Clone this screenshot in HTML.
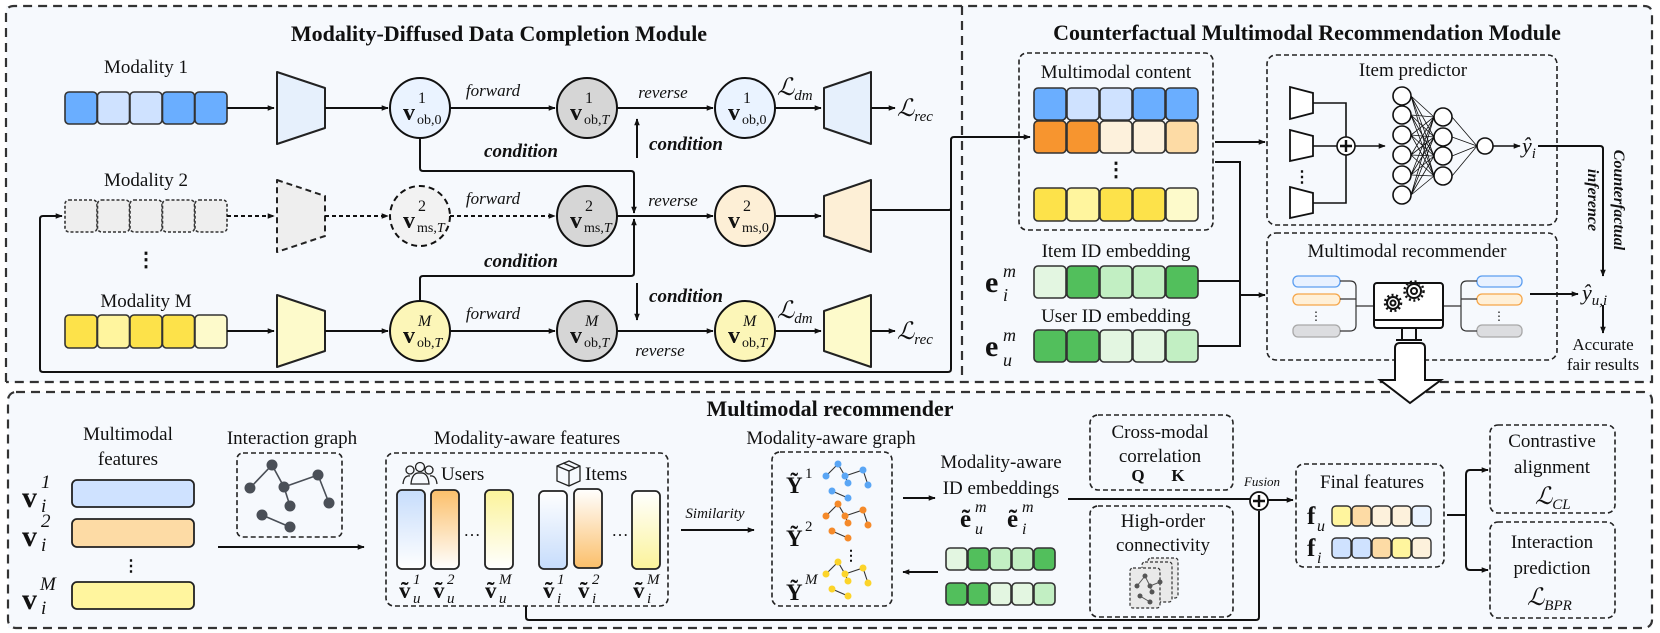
<!DOCTYPE html>
<html><head><meta charset="utf-8"><style>
html,body{margin:0;padding:0;background:#fff}
svg{display:block}
text{font-family:"Liberation Serif",serif;fill:#111}
.b{font-weight:bold}
.i{font-style:italic}
</style></head><body>
<svg width="1660" height="633" viewBox="0 0 1660 633" xmlns="http://www.w3.org/2000/svg">
<defs>
<marker id="a" viewBox="0 0 10 10" refX="9" refY="5" markerWidth="7" markerHeight="7" orient="auto-start-reverse" markerUnits="userSpaceOnUse"><path d="M0,1 L10,5 L0,9 z" fill="#111"/></marker>
<linearGradient id="gb" x1="0" y1="0" x2="0" y2="1"><stop offset="0" stop-color="#c6dcfb"/><stop offset="1" stop-color="#fff"/></linearGradient>
<linearGradient id="go" x1="0" y1="0" x2="0" y2="1"><stop offset="0" stop-color="#fbbf6a"/><stop offset="1" stop-color="#fff"/></linearGradient>
<linearGradient id="gy" x1="0" y1="0" x2="0" y2="1"><stop offset="0" stop-color="#fbf39a"/><stop offset="1" stop-color="#fff"/></linearGradient>
<linearGradient id="gb2" x1="0" y1="1" x2="0" y2="0"><stop offset="0" stop-color="#c6dcfb"/><stop offset="1" stop-color="#fff"/></linearGradient>
<linearGradient id="go2" x1="0" y1="1" x2="0" y2="0"><stop offset="0" stop-color="#fbbf6a"/><stop offset="1" stop-color="#fff"/></linearGradient>
<linearGradient id="gy2" x1="0" y1="1" x2="0" y2="0"><stop offset="0" stop-color="#fbf39a"/><stop offset="1" stop-color="#fff"/></linearGradient>
</defs>

<rect x="6" y="6" width="1646" height="376" fill="#f6f9fd"/>
<rect x="8" y="392" width="1644" height="236" fill="#f6f9fd"/>
<path d="M6,382 V14 Q6,6 14,6 H1644 Q1652,6 1652,14 V382 H6" fill="none" stroke="#333" stroke-width="2.2" stroke-dasharray="9,6"/>
<line x1="962" y1="6" x2="962" y2="382" stroke="#333" stroke-width="2.2" stroke-dasharray="9,6"/>
<rect x="8" y="392" width="1644" height="236" rx="8" fill="none" stroke="#333" stroke-width="2.2" stroke-dasharray="9,6"/>

<!-- ============ TOP LEFT ============ -->
<text x="499" y="41" text-anchor="middle" class="b" font-size="22">Modality-Diffused Data Completion Module</text>
<text x="146" y="73" text-anchor="middle" font-size="19">Modality 1</text>
<text x="146" y="186" text-anchor="middle" font-size="19">Modality 2</text>
<text x="146" y="307" text-anchor="middle" font-size="19">Modality M</text>
<text x="146" y="266" text-anchor="middle" font-size="20" class="b">⋮</text>

<g stroke="#333" stroke-width="1.6">
<rect x="65" y="92" width="32" height="32" rx="4" fill="#6aaeff"/><rect x="97.5" y="92" width="32" height="32" rx="4" fill="#cfe2ff"/><rect x="130" y="92" width="32" height="32" rx="4" fill="#cfe2ff"/><rect x="162.5" y="92" width="32" height="32" rx="4" fill="#6aaeff"/><rect x="195" y="92" width="32" height="32" rx="4" fill="#6aaeff"/>
<g fill="#eeeeee" stroke-dasharray="3,2"><rect x="65" y="200" width="32" height="32" rx="4"/><rect x="97.5" y="200" width="32" height="32" rx="4"/><rect x="130" y="200" width="32" height="32" rx="4"/><rect x="162.5" y="200" width="32" height="32" rx="4"/><rect x="195" y="200" width="32" height="32" rx="4"/></g>
<rect x="65" y="315" width="32" height="33" rx="4" fill="#fde24a"/><rect x="97.5" y="315" width="32" height="33" rx="4" fill="#fff59e"/><rect x="130" y="315" width="32" height="33" rx="4" fill="#fde24a"/><rect x="162.5" y="315" width="32" height="33" rx="4" fill="#fde24a"/><rect x="195" y="315" width="32" height="33" rx="4" fill="#fdfacb"/>
</g>

<g stroke="#222" stroke-width="2" stroke-linejoin="round">
<path d="M277,72 L325,88 L325,128 L277,144 Z" fill="#e6f0fc"/>
<path d="M277,180 L325,196 L325,236 L277,252 Z" fill="#eeeeee" stroke-dasharray="6,4"/>
<path d="M277,295 L325,311 L325,351 L277,367 Z" fill="#fdfacb"/>
<path d="M824,88 L871,72 L871,144 L824,128 Z" fill="#e6f0fc"/>
<path d="M824,196 L871,180 L871,252 L824,236 Z" fill="#fdefd6"/>
<path d="M824,311 L871,295 L871,367 L824,351 Z" fill="#fdfacb"/>
</g>

<g stroke="#111" stroke-width="2" fill="none">
<line x1="227" y1="108" x2="274" y2="108" marker-end="url(#a)"/>
<line x1="325" y1="108" x2="388" y2="108" marker-end="url(#a)"/>
<line x1="450" y1="108" x2="555" y2="108" marker-end="url(#a)"/>
<line x1="617" y1="108" x2="713" y2="108" marker-end="url(#a)"/>
<line x1="775" y1="108" x2="821" y2="108" marker-end="url(#a)"/>
<line x1="871" y1="108" x2="895" y2="108" marker-end="url(#a)"/>
<g stroke-dasharray="4,3"><line x1="227" y1="216" x2="274" y2="216" marker-end="url(#a)"/>
<line x1="325" y1="216" x2="388" y2="216" marker-end="url(#a)"/>
<line x1="450" y1="216" x2="555" y2="216" marker-end="url(#a)"/></g>
<line x1="617" y1="216" x2="713" y2="216" marker-end="url(#a)"/>
<line x1="775" y1="216" x2="821" y2="216" marker-end="url(#a)"/>
<line x1="227" y1="331" x2="274" y2="331" marker-end="url(#a)"/>
<line x1="325" y1="331" x2="388" y2="331" marker-end="url(#a)"/>
<line x1="450" y1="331" x2="555" y2="331" marker-end="url(#a)"/>
<line x1="617" y1="331" x2="713" y2="331" marker-end="url(#a)"/>
<line x1="775" y1="331" x2="821" y2="331" marker-end="url(#a)"/>
<line x1="871" y1="331" x2="895" y2="331" marker-end="url(#a)"/>
<path d="M420,138 V168 Q420,171 423,171 H631 Q634,171 634,174 V213" marker-end="url(#a)"/>
<path d="M420,301 V279 Q420,276 423,276 H631 Q634,276 634,273 V219" marker-end="url(#a)"/>
<line x1="637" y1="158" x2="637" y2="119" marker-end="url(#a)"/>
<line x1="637" y1="283" x2="637" y2="320" marker-end="url(#a)"/>
<path d="M871,210 H949 Q951,210 951,208 V140 Q951,137 954,137 H1030" marker-end="url(#a)"/>
<path d="M951,208 V369 Q951,372 948,372 H43 Q40,372 40,369 V219 Q40,216 43,216 H62" marker-end="url(#a)"/>
</g>

<g stroke="#111" stroke-width="2">
<circle cx="420" cy="108" r="30" fill="#eaf3ff"/>
<circle cx="587" cy="108" r="30" fill="#d6d6d6"/>
<circle cx="745" cy="108" r="30" fill="#eaf3ff"/>
<circle cx="420" cy="216" r="30" fill="#f2f2f2" stroke-dasharray="6,4"/>
<circle cx="587" cy="216" r="30" fill="#d6d6d6"/>
<circle cx="745" cy="216" r="30" fill="#fdefd6"/>
<circle cx="420" cy="331" r="30" fill="#fcf6b8"/>
<circle cx="587" cy="331" r="30" fill="#d6d6d6"/>
<circle cx="745" cy="331" r="30" fill="#fcf6b8"/>
</g>
<g font-size="24">
<text x="403" y="120" class="b">v</text><text x="418" y="103" font-size="16">1</text><text x="417" y="124" font-size="14">ob,0</text>
<text x="570" y="120" class="b">v</text><text x="585" y="103" font-size="16">1</text><text x="584" y="124" font-size="14">ob,<tspan class="i">T</tspan></text>
<text x="728" y="120" class="b">v</text><text x="743" y="103" font-size="16">1</text><text x="742" y="124" font-size="14">ob,0</text>
<text x="403" y="228" class="b">v</text><text x="418" y="211" font-size="16">2</text><text x="417" y="232" font-size="14">ms,<tspan class="i">T</tspan></text>
<text x="570" y="228" class="b">v</text><text x="585" y="211" font-size="16">2</text><text x="584" y="232" font-size="14">ms,<tspan class="i">T</tspan></text>
<text x="728" y="228" class="b">v</text><text x="743" y="211" font-size="16">2</text><text x="742" y="232" font-size="14">ms,0</text>
<text x="403" y="343" class="b">v</text><text x="418" y="326" font-size="16" class="i">M</text><text x="417" y="347" font-size="14">ob,<tspan class="i">T</tspan></text>
<text x="570" y="343" class="b">v</text><text x="585" y="326" font-size="16" class="i">M</text><text x="584" y="347" font-size="14">ob,<tspan class="i">T</tspan></text>
<text x="728" y="343" class="b">v</text><text x="743" y="326" font-size="16" class="i">M</text><text x="742" y="347" font-size="14">ob,<tspan class="i">T</tspan></text>
</g>
<g font-size="17" class="i">
<text x="493" y="96" text-anchor="middle">forward</text>
<text x="663" y="98" text-anchor="middle">reverse</text>
<text x="493" y="204" text-anchor="middle">forward</text>
<text x="673" y="206" text-anchor="middle">reverse</text>
<text x="493" y="319" text-anchor="middle">forward</text>
<text x="660" y="356" text-anchor="middle">reverse</text>
</g>
<g font-size="19" class="b i">
<text x="521" y="157" text-anchor="middle">condition</text>
<text x="686" y="150" text-anchor="middle">condition</text>
<text x="521" y="267" text-anchor="middle">condition</text>
<text x="686" y="302" text-anchor="middle">condition</text>
</g>
<g font-size="24" class="i">
<text x="777" y="95">ℒ<tspan font-size="15" dy="5">dm</tspan></text>
<text x="777" y="318">ℒ<tspan font-size="15" dy="5">dm</tspan></text>
<text x="897" y="116">ℒ<tspan font-size="15" dy="5">rec</tspan></text>
<text x="897" y="339">ℒ<tspan font-size="15" dy="5">rec</tspan></text>
</g>

<!-- ============ TOP RIGHT ============ -->
<text x="1307" y="40" text-anchor="middle" class="b" font-size="22">Counterfactual Multimodal Recommendation Module</text>
<rect x="1019" y="53" width="194" height="177" rx="8" fill="none" stroke="#222" stroke-width="1.6" stroke-dasharray="5,3"/>
<text x="1116" y="78" text-anchor="middle" font-size="19">Multimodal content</text>
<g stroke="#333" stroke-width="1.6">
<rect x="1034" y="88" width="32" height="32" rx="4" fill="#6aaeff"/><rect x="1067" y="88" width="32" height="32" rx="4" fill="#cfe2ff"/><rect x="1100" y="88" width="32" height="32" rx="4" fill="#cfe2ff"/><rect x="1133" y="88" width="32" height="32" rx="4" fill="#6aaeff"/><rect x="1166" y="88" width="32" height="32" rx="4" fill="#6aaeff"/>
<rect x="1034" y="121" width="32" height="32" rx="4" fill="#f7952f"/><rect x="1067" y="121" width="32" height="32" rx="4" fill="#f7952f"/><rect x="1100" y="121" width="32" height="32" rx="4" fill="#fdf1dc"/><rect x="1133" y="121" width="32" height="32" rx="4" fill="#fdf1dc"/><rect x="1166" y="121" width="32" height="32" rx="4" fill="#fddba5"/>
<rect x="1034" y="188" width="32" height="33" rx="4" fill="#fde24a"/><rect x="1067" y="188" width="32" height="33" rx="4" fill="#fff59e"/><rect x="1100" y="188" width="32" height="33" rx="4" fill="#fde24a"/><rect x="1133" y="188" width="32" height="33" rx="4" fill="#fde24a"/><rect x="1166" y="188" width="32" height="33" rx="4" fill="#fdfacb"/>
<rect x="1034" y="266" width="32" height="32" rx="4" fill="#e3f6e1"/><rect x="1067" y="266" width="32" height="32" rx="4" fill="#52bf5c"/><rect x="1100" y="266" width="32" height="32" rx="4" fill="#c2efc3"/><rect x="1133" y="266" width="32" height="32" rx="4" fill="#c2efc3"/><rect x="1166" y="266" width="32" height="32" rx="4" fill="#52bf5c"/>
<rect x="1034" y="330" width="32" height="32" rx="4" fill="#52bf5c"/><rect x="1067" y="330" width="32" height="32" rx="4" fill="#52bf5c"/><rect x="1100" y="330" width="32" height="32" rx="4" fill="#e3f6e1"/><rect x="1133" y="330" width="32" height="32" rx="4" fill="#e3f6e1"/><rect x="1166" y="330" width="32" height="32" rx="4" fill="#c2efc3"/>
</g>
<text x="1116" y="176" text-anchor="middle" font-size="20" class="b">⋮</text>
<text x="1116" y="257" text-anchor="middle" font-size="19">Item ID embedding</text>
<text x="1116" y="322" text-anchor="middle" font-size="19">User ID embedding</text>
<text x="985" y="292" font-size="30" class="b">e</text><text x="1003" y="277" font-size="18" class="i">m</text><text x="1003" y="301" font-size="18" class="i">i</text>
<text x="985" y="356" font-size="30" class="b">e</text><text x="1003" y="341" font-size="18" class="i">m</text><text x="1003" y="366" font-size="18" class="i">u</text>

<g stroke="#111" stroke-width="2" fill="none">
<line x1="1215" y1="142" x2="1265" y2="142" marker-end="url(#a)"/>
<path d="M1215,162 H1240 V346 H1198 M1198,281 H1240"/>
<line x1="1240" y1="295" x2="1265" y2="295" marker-end="url(#a)"/>
</g>

<rect x="1267" y="55" width="290" height="170" rx="9" fill="none" stroke="#222" stroke-width="1.6" stroke-dasharray="5,3"/>
<text x="1413" y="76" text-anchor="middle" font-size="19">Item predictor</text>
<g stroke="#111" stroke-width="1.8" fill="#fff">
<path d="M1290,87 L1313,93 L1313,113 L1290,119 Z"/>
<path d="M1290,130 L1313,136 L1313,156 L1290,161 Z"/>
<path d="M1290,187 L1313,193 L1313,213 L1290,218 Z"/>
</g>
<g stroke="#111" stroke-width="1.6" fill="none">
<path d="M1313,103 H1346 V203 H1313 M1313,146 H1337"/>
<line x1="1355" y1="146" x2="1385" y2="146" marker-end="url(#a)"/>
<line x1="1493" y1="146" x2="1520" y2="146" marker-end="url(#a)"/>
</g>
<circle cx="1346" cy="146" r="9" fill="#fff" stroke="#111" stroke-width="1.6"/>
<path d="M1340,146 H1352 M1346,140 V152" stroke="#111" stroke-width="2.4"/>
<text x="1302" y="182" text-anchor="middle" font-size="16" class="b">⋮</text>
<g stroke="#111" stroke-width="0.8" fill="none">
<path d="M1411,96 L1434,117 M1411,96 L1434,137 M1411,96 L1434,156 M1411,96 L1434,176
M1411,115 L1434,117 M1411,115 L1434,137 M1411,115 L1434,156 M1411,115 L1434,176
M1411,135 L1434,117 M1411,135 L1434,137 M1411,135 L1434,156 M1411,135 L1434,176
M1411,155 L1434,117 M1411,155 L1434,137 M1411,155 L1434,156 M1411,155 L1434,176
M1411,175 L1434,117 M1411,175 L1434,137 M1411,175 L1434,156 M1411,175 L1434,176
M1411,195 L1434,117 M1411,195 L1434,137 M1411,195 L1434,156 M1411,195 L1434,176
M1452,117 L1477,146 M1452,137 L1477,146 M1452,156 L1477,146 M1452,176 L1477,146"/>
</g>
<g stroke="#111" stroke-width="1.6" fill="#fff">
<circle cx="1402" cy="96" r="9"/><circle cx="1402" cy="115" r="9"/><circle cx="1402" cy="135" r="9"/><circle cx="1402" cy="155" r="9"/><circle cx="1402" cy="175" r="9"/><circle cx="1402" cy="195" r="9"/>
<circle cx="1443" cy="117" r="9"/><circle cx="1443" cy="137" r="9"/><circle cx="1443" cy="156" r="9"/><circle cx="1443" cy="176" r="9"/>
<circle cx="1485" cy="146" r="8"/>
</g>
<text x="1522" y="153" font-size="22" class="i">ŷ<tspan font-size="15" dy="5">i</tspan></text>

<rect x="1267" y="233" width="290" height="127" rx="9" fill="none" stroke="#222" stroke-width="1.6" stroke-dasharray="5,3"/>
<text x="1407" y="257" text-anchor="middle" font-size="19">Multimodal recommender</text>
<g stroke-width="1.3">
<rect x="1293" y="276" width="47" height="11" rx="5" fill="#e8f1ff" stroke="#5c9ef0"/>
<rect x="1293" y="294" width="47" height="11" rx="5" fill="#fff0d8" stroke="#f5a64a"/>
<rect x="1293" y="325" width="47" height="12" rx="5" fill="#dcdde0" stroke="#a8a8a8"/>
<rect x="1477" y="276" width="45" height="11" rx="5" fill="#e8f1ff" stroke="#5c9ef0"/>
<rect x="1477" y="294" width="45" height="11" rx="5" fill="#fff0d8" stroke="#f5a64a"/>
<rect x="1477" y="325" width="45" height="12" rx="5" fill="#dcdde0" stroke="#a8a8a8"/>
</g>
<text x="1316" y="320" text-anchor="middle" font-size="12">⋮</text>
<text x="1499" y="320" text-anchor="middle" font-size="12">⋮</text>
<g stroke="#333" stroke-width="1.2" fill="none">
<path d="M1340,281 H1350 Q1356,281 1356,287 V325 Q1356,331 1350,331 H1340 M1340,299 H1356 M1356,306 H1373"/>
<path d="M1477,281 H1467 Q1461,281 1461,287 V325 Q1461,331 1467,331 H1477 M1477,299 H1461 M1461,306 H1444"/>
</g>
<g stroke="#111" stroke-width="2" fill="none">
<rect x="1374" y="283" width="69" height="45" rx="3" fill="#fff"/>
<line x1="1374" y1="320" x2="1443" y2="320"/>
<path d="M1402,328 V339 M1416,328 V339 M1396,340 H1422"/>
<circle cx="1414" cy="291" r="7"/><circle cx="1414" cy="291" r="3"/>
<circle cx="1393" cy="303" r="6"/><circle cx="1393" cy="303" r="2.5"/>
</g>
<g stroke="#111" stroke-width="2.5" stroke-dasharray="2,2.5" fill="none">
<circle cx="1414" cy="291" r="9.5"/><circle cx="1393" cy="303" r="8"/>
</g>
<line x1="1530" y1="294" x2="1578" y2="294" stroke="#111" stroke-width="2" marker-end="url(#a)"/>
<text x="1582" y="300" font-size="22" class="i">ŷ<tspan font-size="15" dy="5">u,i</tspan></text>
<path d="M1538,146 H1600 Q1603,146 1603,149 V276" stroke="#111" stroke-width="2" fill="none" marker-end="url(#a)"/>
<text transform="translate(1614,200) rotate(90)" text-anchor="middle" font-size="16" class="b i">Counterfactual</text>
<text transform="translate(1588,200) rotate(90)" text-anchor="middle" font-size="16" class="b i">inference</text>
<line x1="1603" y1="305" x2="1603" y2="333" stroke="#111" stroke-width="2" marker-end="url(#a)"/>
<text x="1603" y="350" text-anchor="middle" font-size="17">Accurate</text>
<text x="1603" y="370" text-anchor="middle" font-size="17">fair results</text>

<path d="M1395,348 Q1395,343 1400,343 H1420 Q1425,343 1425,348 V380 H1441 L1410,403 L1380,380 H1395 Z" fill="#fff" stroke="#111" stroke-width="2"/>

<!-- ============ BOTTOM ============ -->
<text x="830" y="416" text-anchor="middle" class="b" font-size="22">Multimodal recommender</text>
<text x="128" y="440" text-anchor="middle" font-size="19">Multimodal</text>
<text x="128" y="465" text-anchor="middle" font-size="19">features</text>
<g stroke="#222" stroke-width="1.8">
<rect x="72" y="480" width="122" height="27" rx="5" fill="#cfe2ff"/>
<rect x="72" y="519" width="122" height="28" rx="5" fill="#fddba5"/>
<rect x="72" y="582" width="122" height="27" rx="5" fill="#fff59e"/>
</g>
<text x="131" y="571" text-anchor="middle" font-size="16" class="b">⋮</text>
<g font-size="30" class="b"><text x="22" y="507">v</text><text x="22" y="546">v</text><text x="22" y="609">v</text></g>
<g font-size="19" class="i"><text x="41" y="488">1</text><text x="41" y="512">i</text><text x="41" y="527">2</text><text x="41" y="551">i</text><text x="40" y="590">M</text><text x="41" y="614">i</text></g>

<text x="292" y="444" text-anchor="middle" font-size="19">Interaction graph</text>
<rect x="237" y="453" width="105" height="84" rx="6" fill="none" stroke="#222" stroke-width="1.6" stroke-dasharray="5,3"/>
<g stroke="#4a4f57" stroke-width="1.6" fill="none"><path d="M250,488 L272,465 L284,487 L318,475 L329,503 M284,487 L290,506 M262,515 L290,527"/></g>
<g fill="#4a4f57"><circle cx="272" cy="465" r="5.5"/><circle cx="250" cy="488" r="5.5"/><circle cx="284" cy="487" r="5.5"/><circle cx="318" cy="475" r="5.5"/><circle cx="329" cy="503" r="5.5"/><circle cx="290" cy="506" r="5.5"/><circle cx="262" cy="515" r="5.5"/><circle cx="290" cy="527" r="5.5"/></g>
<line x1="218" y1="547" x2="364" y2="547" stroke="#111" stroke-width="2" marker-end="url(#a)"/>

<text x="527" y="444" text-anchor="middle" font-size="19">Modality-aware features</text>
<rect x="386" y="453" width="282" height="153" rx="8" fill="none" stroke="#222" stroke-width="1.6" stroke-dasharray="5,3"/>
<g stroke="#222" stroke-width="1.3" fill="none">
<circle cx="410" cy="470" r="4"/><circle cx="420" cy="467" r="4.5"/><circle cx="429" cy="470" r="4"/>
<path d="M403,484 Q404,475 410,476 M411,484 Q412,472 420,473 Q428,472 429,484 Z M437,484 Q436,475 430,476"/>
<path d="M557,466 L569,461 L580,466 L580,481 L569,486 L557,481 Z M557,466 L569,471 L580,466 M569,471 V486 M563,463 L575,468"/>
</g>
<text x="441" y="480" font-size="19">Users</text>
<text x="585" y="480" font-size="19">Items</text>
<g stroke="#222" stroke-width="1.8">
<rect x="397" y="490" width="28" height="79" rx="5" fill="url(#gb)"/>
<rect x="431" y="490" width="28" height="79" rx="5" fill="url(#go)"/>
<rect x="485" y="490" width="28" height="79" rx="5" fill="url(#gy)"/>
<rect x="539" y="491" width="28" height="78" rx="5" fill="url(#gb2)"/>
<rect x="574" y="489" width="28" height="79" rx="5" fill="url(#go2)"/>
<rect x="632" y="491" width="28" height="78" rx="5" fill="url(#gy2)"/>
</g>
<text x="472" y="536" text-anchor="middle" font-size="17">…</text>
<text x="620" y="536" text-anchor="middle" font-size="17">…</text>
<g font-size="23" class="b"><text x="399" y="598">ṽ</text><text x="433" y="598">ṽ</text><text x="485" y="598">ṽ</text><text x="543" y="598">ṽ</text><text x="578" y="598">ṽ</text><text x="633" y="598">ṽ</text></g>
<g font-size="15" class="i"><text x="413" y="584">1</text><text x="413" y="603">u</text><text x="447" y="584">2</text><text x="447" y="603">u</text><text x="499" y="584">M</text><text x="499" y="603">u</text><text x="557" y="584">1</text><text x="557" y="603">i</text><text x="592" y="584">2</text><text x="592" y="603">i</text><text x="647" y="584">M</text><text x="647" y="603">i</text></g>

<text x="715" y="518" text-anchor="middle" font-size="15" class="i">Similarity</text>
<line x1="681" y1="530" x2="754" y2="530" stroke="#111" stroke-width="2" marker-end="url(#a)"/>

<text x="831" y="444" text-anchor="middle" font-size="19">Modality-aware graph</text>
<rect x="772" y="452" width="120" height="154" rx="8" fill="none" stroke="#222" stroke-width="1.6" stroke-dasharray="5,3"/>
<g font-size="23" class="b"><text x="786" y="493">Ỹ</text><text x="786" y="546">Ỹ</text><text x="786" y="600">Ỹ</text></g>
<g font-size="15"><text x="805" y="478">1</text><text x="805" y="531">2</text><text x="805" y="584" class="i">M</text></g>
<g fill="none" stroke="#333" stroke-width="1.1">
<path d="M826,476 L838,464 L845,476 L863,470 L868,485 M845,476 L848,483 M832,491 L848,498"/>
<path transform="translate(0,40)" d="M826,476 L838,464 L845,476 L863,470 L868,485 M845,476 L848,483 M832,491 L848,498"/>
<path transform="translate(0,98)" d="M826,476 L838,464 L845,476 L863,470 L868,485 M845,476 L848,483 M832,491 L848,498"/>
</g>
<g fill="#5aa6f5"><circle cx="838" cy="464" r="3.5"/><circle cx="826" cy="476" r="3.5"/><circle cx="845" cy="476" r="3.5"/><circle cx="863" cy="470" r="3.5"/><circle cx="868" cy="485" r="3.5"/><circle cx="848" cy="483" r="3.5"/><circle cx="832" cy="491" r="3.5"/><circle cx="848" cy="498" r="3.5"/></g>
<g transform="translate(0,40)" fill="#f58a2a"><circle cx="838" cy="464" r="3.5"/><circle cx="826" cy="476" r="3.5"/><circle cx="845" cy="476" r="3.5"/><circle cx="863" cy="470" r="3.5"/><circle cx="868" cy="485" r="3.5"/><circle cx="848" cy="483" r="3.5"/><circle cx="832" cy="491" r="3.5"/><circle cx="848" cy="498" r="3.5"/></g>
<g transform="translate(0,98)" fill="#fcd42a"><circle cx="838" cy="464" r="3.5"/><circle cx="826" cy="476" r="3.5"/><circle cx="845" cy="476" r="3.5"/><circle cx="863" cy="470" r="3.5"/><circle cx="868" cy="485" r="3.5"/><circle cx="848" cy="483" r="3.5"/><circle cx="832" cy="491" r="3.5"/><circle cx="848" cy="498" r="3.5"/></g>
<text x="851" y="560" text-anchor="middle" font-size="14" class="b">⋮</text>

<line x1="903" y1="498" x2="935" y2="498" stroke="#111" stroke-width="2" marker-end="url(#a)"/>
<line x1="938" y1="572" x2="903" y2="572" stroke="#111" stroke-width="2" marker-end="url(#a)"/>
<text x="1001" y="468" text-anchor="middle" font-size="19">Modality-aware</text>
<text x="1001" y="494" text-anchor="middle" font-size="19">ID embeddings</text>
<g font-size="25" class="b"><text x="960" y="527">ẽ</text><text x="1007" y="527">ẽ</text></g>
<g font-size="16" class="i"><text x="975" y="512">m</text><text x="975" y="534">u</text><text x="1022" y="512">m</text><text x="1022" y="534">i</text></g>
<g stroke="#333" stroke-width="1.6">
<rect x="946" y="548" width="21" height="22" rx="4" fill="#e3f6e1"/><rect x="968" y="548" width="21" height="22" rx="4" fill="#52bf5c"/><rect x="990" y="548" width="21" height="22" rx="4" fill="#c2efc3"/><rect x="1012" y="548" width="21" height="22" rx="4" fill="#c2efc3"/><rect x="1034" y="548" width="21" height="22" rx="4" fill="#52bf5c"/>
<rect x="946" y="583" width="21" height="22" rx="4" fill="#52bf5c"/><rect x="968" y="583" width="21" height="22" rx="4" fill="#52bf5c"/><rect x="990" y="583" width="21" height="22" rx="4" fill="#e3f6e1"/><rect x="1012" y="583" width="21" height="22" rx="4" fill="#e3f6e1"/><rect x="1034" y="583" width="21" height="22" rx="4" fill="#c2efc3"/>
</g>

<rect x="1090" y="415" width="143" height="75" rx="8" fill="none" stroke="#222" stroke-width="1.6" stroke-dasharray="5,3"/>
<text x="1160" y="438" text-anchor="middle" font-size="19">Cross-modal</text>
<text x="1160" y="462" text-anchor="middle" font-size="19">correlation</text>
<text x="1138" y="481" text-anchor="middle" font-size="17" class="b">Q</text><text x="1178" y="481" text-anchor="middle" font-size="17" class="b">K</text>
<rect x="1090" y="506" width="143" height="111" rx="8" fill="none" stroke="#222" stroke-width="1.6" stroke-dasharray="5,3"/>
<text x="1163" y="527" text-anchor="middle" font-size="19">High-order</text>
<text x="1163" y="551" text-anchor="middle" font-size="19">connectivity</text>
<g stroke="#333" stroke-width="1.2" stroke-dasharray="3,2" fill="#e9e9e9">
<rect x="1148" y="558" width="30" height="40" rx="3"/><rect x="1142" y="562" width="30" height="40" rx="3"/><rect x="1130" y="568" width="30" height="40" rx="3"/>
</g>
<g stroke="#555" stroke-width="1" fill="none"><path d="M1137,586 L1145,576 L1150,586 L1160,582 M1150,586 L1152,592 M1140,596 L1150,602"/></g>
<g fill="#555"><circle cx="1145" cy="576" r="2.5"/><circle cx="1137" cy="586" r="2.5"/><circle cx="1150" cy="586" r="2.5"/><circle cx="1160" cy="582" r="2.5"/><circle cx="1152" cy="592" r="2.5"/><circle cx="1140" cy="596" r="2.5"/><circle cx="1150" cy="602" r="2.5"/></g>

<g stroke="#111" stroke-width="2" fill="none">
<line x1="1068" y1="499" x2="1250" y2="499"/>
<path d="M526,606 V617 Q526,620 529,620 H1256 Q1259,620 1259,617 V511"/>
<line x1="1268" y1="500" x2="1293" y2="500" marker-end="url(#a)"/>
</g>
<circle cx="1259" cy="501" r="9" fill="#fff" stroke="#111" stroke-width="1.8"/>
<path d="M1253,501 H1265 M1259,495 V507" stroke="#111" stroke-width="2.4"/>
<text x="1262" y="486" text-anchor="middle" font-size="13" class="i">Fusion</text>

<rect x="1296" y="464" width="148" height="103" rx="8" fill="none" stroke="#222" stroke-width="1.6" stroke-dasharray="5,3"/>
<text x="1372" y="488" text-anchor="middle" font-size="19">Final features</text>
<text x="1307" y="524" font-size="25" class="b">f</text><text x="1317" y="531" font-size="16" class="i">u</text>
<text x="1307" y="556" font-size="25" class="b">f</text><text x="1317" y="563" font-size="16" class="i">i</text>
<g stroke="#333" stroke-width="1.4">
<rect x="1332" y="506" width="19" height="20" rx="4" fill="#fff59e"/><rect x="1352" y="506" width="19" height="20" rx="4" fill="#fddba5"/><rect x="1372" y="506" width="19" height="20" rx="4" fill="#fdf1dc"/><rect x="1392" y="506" width="19" height="20" rx="4" fill="#fdf1dc"/><rect x="1412" y="506" width="19" height="20" rx="4" fill="#eaf3ff"/>
<rect x="1332" y="538" width="19" height="20" rx="4" fill="#cfe2ff"/><rect x="1352" y="538" width="19" height="20" rx="4" fill="#cfe2ff"/><rect x="1372" y="538" width="19" height="20" rx="4" fill="#fddba5"/><rect x="1392" y="538" width="19" height="20" rx="4" fill="#fff59e"/><rect x="1412" y="538" width="19" height="20" rx="4" fill="#fdf1dc"/>
</g>
<g stroke="#111" stroke-width="2" fill="none">
<path d="M1447,515 H1466 M1487,470 H1470 Q1466,470 1466,475 V565 Q1466,570 1470,570 H1487"/>
<line x1="1476" y1="470" x2="1488" y2="470" marker-end="url(#a)"/>
<line x1="1476" y1="570" x2="1488" y2="570" marker-end="url(#a)"/>
</g>
<rect x="1490" y="425" width="125" height="88" rx="8" fill="none" stroke="#222" stroke-width="1.6" stroke-dasharray="5,3"/>
<text x="1552" y="447" text-anchor="middle" font-size="19">Contrastive</text>
<text x="1552" y="473" text-anchor="middle" font-size="19">alignment</text>
<text x="1535" y="504" font-size="24" class="i">ℒ<tspan font-size="15" dy="5">CL</tspan></text>
<rect x="1490" y="522" width="125" height="96" rx="8" fill="none" stroke="#222" stroke-width="1.6" stroke-dasharray="5,3"/>
<text x="1552" y="548" text-anchor="middle" font-size="19">Interaction</text>
<text x="1552" y="574" text-anchor="middle" font-size="19">prediction</text>
<text x="1527" y="605" font-size="24" class="i">ℒ<tspan font-size="15" dy="5">BPR</tspan></text>
</svg>
</body></html>
